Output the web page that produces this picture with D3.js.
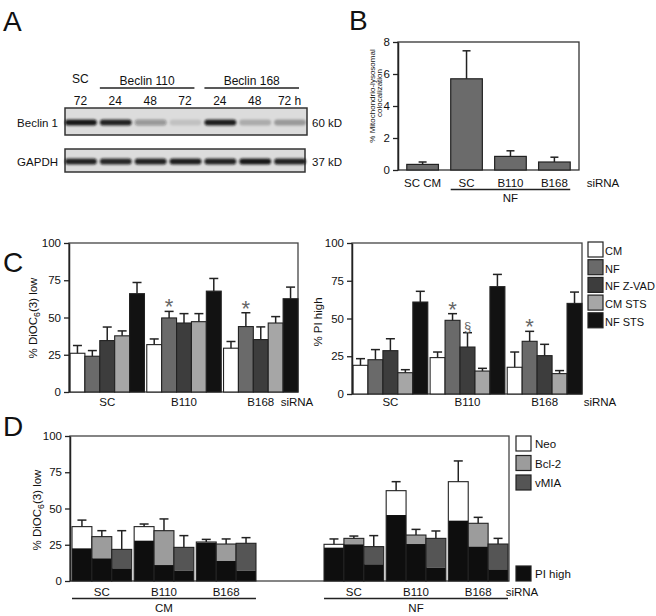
<!DOCTYPE html>
<html>
<head>
<meta charset="utf-8">
<script src="https://cdn.jsdelivr.net/npm/d3@7"></script>
<style>
  body { margin: 0; background: #fff; }
  text { font-family: "Liberation Sans", Arial, sans-serif; fill: #111; }
</style>
</head>
<body>
<div id="viz"></div>
<script>
// ---- data ----
// A: western blot lanes, band darkness 0..1
var lanes = ["SC 72", "B110 24", "B110 48", "B110 72", "B168 24", "B168 48", "B168 72"];
var laneLabels = ["72", "24", "48", "72", "24", "48", "72 h"];
var beclinBand = [0.95, 0.9, 0.35, 0.12, 0.92, 0.22, 0.3];
var gapdhBand = [0.9, 0.88, 0.9, 0.92, 0.9, 0.95, 0.9];

// B: mitochondrio-lysosomal colocalization
var bCats = ["SC CM", "SC", "B110", "B168"];
var bMean = [0.35, 5.7, 0.85, 0.5];
var bErr = [0.5, 7.45, 1.2, 0.8];
var bTicks = [0, 2, 4, 6, 8];

// C: [siRNA][treatment]
var siRNA = ["SC", "B110", "B168"];
var cTreat = ["CM", "NF", "NF Z-VAD", "CM STS", "NF STS"];
var dioc = [[26, 24, 34.5, 37.7, 66], [31.8, 49.7, 46.3, 47.2, 67.7], [29.4, 43.9, 35.2, 46.3, 62.6]];
var diocErr = [[31.2, 27.8, 43.6, 41, 73.5], [35.6, 54.1, 52.6, 52.6, 76.2], [33.9, 53.2, 43.7, 50.6, 70.4]];
var piHigh = [[19, 22.7, 28.7, 14.1, 60.9], [24.1, 48.8, 31.1, 15.2, 71.1], [17.7, 34.9, 25.4, 13.5, 60]];
var piErr = [[23.4, 29.4, 36.6, 16.1, 68], [27.8, 53.2, 40.6, 17, 79.2], [27.8, 41.5, 32.9, 15.5, 67.5]];
var diocMarks = [["B110", "NF", "*"], ["B168", "NF", "*"]];
var piMarks = [["B110", "NF", "*"], ["B110", "NF Z-VAD", "§"], ["B168", "NF", "*"]];
var cTicks = [0, 25, 50, 75, 100];

// D: [medium][siRNA][cell line]
var dMedium = ["CM", "NF"];
var dLines = ["Neo", "Bcl-2", "vMIA"];
var dTotal = [[[37.5, 30.6, 21.8], [37.5, 34.7, 23.2], [26.9, 25.5, 26]],
              [[25.3, 29.4, 23.7], [62.3, 31.7, 29.4], [68.5, 39.8, 25.5]]];
var dErr = [[[42, 34.7, 34.7], [39.3, 42.8, 31.3], [28.7, 29, 29.9]],
            [[29, 31, 31.3], [68.5, 35.6, 34.5], [82.8, 43.9, 29.4]]];
var dPI = [[[22.5, 15.6, 8.7], [27.8, 11, 7.1], [26.5, 13.8, 7.1]],
           [[23, 25.3, 11.5], [45.5, 25.5, 9.2], [41.6, 23.7, 8]]];

var cColor = d3.scaleOrdinal().domain(cTreat).range(["#ffffff", "#6a6a6a", "#3d3d3d", "#a6a6a6", "#121212"]);
var dColor = d3.scaleOrdinal().domain(dLines).range(["#ffffff", "#9c9c9c", "#555555"]);
var piColor = "#0e0e0e";
var ink = "#222";

var svg = d3.select("#viz").append("svg")
    .attr("width", 656)
    .attr("height", 616);

var defs = svg.append("defs");
defs.append("filter").attr("id", "blur")
    .attr("x", "-20%").attr("y", "-80%").attr("width", "140%").attr("height", "260%")
  .append("feGaussianBlur").attr("stdDeviation", 1.1);

function letter(t, x, y) {
  svg.append("text").attr("x", x).attr("y", y)
    .attr("font-size", 28).text(t);
}

function styleAxis(g, size) {
  g.select(".domain").attr("stroke", ink).attr("stroke-width", 1.5);
  g.selectAll(".tick line").attr("stroke", ink).attr("stroke-width", 1.3);
  g.selectAll(".tick text").attr("font-size", size).attr("fill", "#111")
    .attr("font-family", "Liberation Sans, Arial, sans-serif");
}

function errBar(g, cx, y0, y1, cap) {
  g.append("line").attr("x1", cx).attr("x2", cx).attr("y1", y0).attr("y2", y1)
    .attr("stroke", ink).attr("stroke-width", 1.5);
  g.append("line").attr("x1", cx - cap / 2).attr("x2", cx + cap / 2).attr("y1", y1).attr("y2", y1)
    .attr("stroke", ink).attr("stroke-width", 1.5);
}

function yLabel(x, y, size, parts) {
  var t = svg.append("text")
    .attr("transform", "translate(" + x + "," + y + ") rotate(-90)")
    .attr("text-anchor", "middle").attr("font-size", size);
  parts.forEach(function(p) {
    var s = t.append("tspan").text(p[0]);
    if (p[1]) s.attr("font-size", size * 0.75).attr("dy", 3);
    else if (p[2]) s.attr("dy", -3);
  });
}

// ---- A: western blot ----
letter("A", 3, 31);
var lx = d3.scaleBand().domain(lanes).range([63, 307]);
var gA = svg.append("g");

gA.append("text").attr("x", lx(lanes[0]) + lx.bandwidth() / 2).attr("y", 83)
  .attr("text-anchor", "middle").attr("font-size", 12).text("SC");
[["Beclin 110", lanes.slice(1, 4)], ["Beclin 168", lanes.slice(4, 7)]].forEach(function(grp) {
  var xa = lx(grp[1][0]) + 2, xb = lx(grp[1][2]) + lx.bandwidth() - 8;
  gA.append("line").attr("x1", xa).attr("x2", xb).attr("y1", 88).attr("y2", 88)
    .attr("stroke", ink).attr("stroke-width", 1.3);
  gA.append("text").attr("x", (xa + xb) / 2).attr("y", 85)
    .attr("text-anchor", "middle").attr("font-size", 12).text(grp[0]);
});
gA.selectAll(".lane").data(lanes).enter().append("text")
  .attr("x", function(d) { return lx(d) + lx.bandwidth() / 2; })
  .attr("y", 105).attr("text-anchor", "middle").attr("font-size", 12)
  .text(function(d, i) { return laneLabels[i]; });

[["Beclin 1", beclinBand, 108, 135, "60 kD", 307],
 ["GAPDH", gapdhBand, 149, 172, "37 kD", 305]].forEach(function(b) {
  var y0 = b[2], y1 = b[3], cy = (y0 + y1) / 2 + 1;
  gA.append("rect").attr("x", 65).attr("y", y0).attr("width", b[5] - 65).attr("height", y1 - y0)
    .attr("fill", "#dcdcdc").attr("stroke", "#333").attr("stroke-width", 1.5);
  gA.append("g").attr("filter", "url(#blur)").selectAll("rect").data(b[1]).enter().append("rect")
    .attr("x", function(d, i) { return lx(lanes[i]) + 2; })
    .attr("width", lx.bandwidth() - 3)
    .attr("y", cy - 3).attr("height", 6).attr("rx", 3)
    .attr("fill", "#111").attr("opacity", function(d) { return d; });
  gA.append("text").attr("x", 58).attr("y", cy + 4).attr("text-anchor", "end")
    .attr("font-size", 11.5).text(b[0]);
  gA.append("text").attr("x", 312).attr("y", cy + 4).attr("font-size", 11.5).text(b[4]);
});

// ---- B: colocalization ----
letter("B", 349, 30);
var by = d3.scaleLinear().domain([0, 8]).range([170, 42]);
var bx = d3.scaleBand().domain(bCats).range([398, 579]).paddingInner(0.28).paddingOuter(0.2);
var gB = svg.append("g");
gB.append("rect").attr("x", 398).attr("y", 42).attr("width", 181).attr("height", 128)
  .attr("fill", "none").attr("stroke", "#333").attr("stroke-width", 1.3);
bCats.forEach(function(c, i) {
  gB.append("rect").attr("x", bx(c)).attr("y", by(bMean[i]))
    .attr("width", bx.bandwidth()).attr("height", by(0) - by(bMean[i]))
    .attr("fill", "#6b6b6b").attr("stroke", ink).attr("stroke-width", 1.2);
  errBar(gB, bx(c) + bx.bandwidth() / 2, by(bMean[i]), by(bErr[i]), 8);
  gB.append("text").attr("x", bx(c) + bx.bandwidth() / 2).attr("y", 187)
    .attr("text-anchor", "middle").attr("font-size", 11.5).text(c);
});
var bAx = gB.append("g").attr("transform", "translate(398,0)")
  .call(d3.axisLeft(by).tickValues(bTicks).tickSize(5).tickSizeOuter(0));
styleAxis(bAx, 11.5);
gB.append("text").attr("x", 603).attr("y", 187).attr("text-anchor", "middle")
  .attr("font-size", 11.5).text("siRNA");
var nfA = bx("SC"), nfB = bx("B168") + bx.bandwidth();
gB.append("line").attr("x1", nfA).attr("x2", nfB).attr("y1", 189.5).attr("y2", 189.5)
  .attr("stroke", ink).attr("stroke-width", 1.3);
gB.append("text").attr("x", (nfA + nfB) / 2).attr("y", 202).attr("text-anchor", "middle")
  .attr("font-size", 11.5).text("NF");
[["% Mitochondrio-lysosomal", 375, 96], ["colocalization", 382, 93]].forEach(function(l) {
  gB.append("text").attr("transform", "translate(" + l[1] + "," + l[2] + ") rotate(-90)")
    .attr("text-anchor", "middle").attr("font-size", 8).text(l[0]);
});

// ---- C: two grouped bar charts ----
letter("C", 3, 272);

function drawC(x0, x1, yBot, vals, errs, marks, siX) {
  var y = d3.scaleLinear().domain([0, 100]).range([yBot, 243]);
  var gx = d3.scaleBand().domain(siRNA).range([x0 + 1, x1]).paddingInner(0.03);
  var tx = d3.scaleBand().domain(cTreat).range([0, gx.bandwidth()]);
  var g = svg.append("g");
  g.append("rect").attr("x", x0).attr("y", 243).attr("width", x1 - x0).attr("height", yBot - 243)
    .attr("fill", "none").attr("stroke", "#444").attr("stroke-width", 1.3);
  siRNA.forEach(function(s, si) {
    cTreat.forEach(function(t, ti) {
      var v = vals[si][ti], xb = gx(s) + tx(t);
      g.append("rect").attr("x", xb).attr("y", y(v))
        .attr("width", tx.bandwidth()).attr("height", yBot - y(v))
        .attr("fill", cColor(t)).attr("stroke", ink).attr("stroke-width", 1.1);
      errBar(g, xb + tx.bandwidth() / 2, y(v), y(errs[si][ti]), 9);
    });
    g.append("text").attr("x", gx(s) + gx.bandwidth() / 2).attr("y", 406)
      .attr("text-anchor", "middle").attr("font-size", 11.5).text(s);
  });
  marks.forEach(function(m) {
    var si = siRNA.indexOf(m[0]), ti = cTreat.indexOf(m[1]);
    var cx = gx(m[0]) + tx(m[1]) + tx.bandwidth() / 2;
    var star = m[2] === "*";
    g.append("text").attr("x", cx).attr("y", y(errs[si][ti]) + (star ? 3 : -2))
      .attr("text-anchor", "middle").attr("font-size", star ? 22 : 13)
      .style("fill", "#666").text(m[2]);
  });
  var ax = g.append("g").attr("transform", "translate(" + x0 + ",0)")
    .call(d3.axisLeft(y).tickValues(cTicks).tickSize(5).tickSizeOuter(0));
  styleAxis(ax, 11.5);
  g.append("text").attr("x", siX).attr("y", 406).attr("text-anchor", "middle")
    .attr("font-size", 11.5).text("siRNA");
}

drawC(69, 298, 392, dioc, diocErr, diocMarks, 297);
drawC(352, 582, 394, piHigh, piErr, piMarks, 600);
yLabel(37, 318, 11.5, [["% DiOC"], ["6", true], ["(3) low", false, true]]);
yLabel(322, 322, 11.5, [["% PI high"]]);

var legC = svg.append("g");
cTreat.forEach(function(t, i) {
  var yy = 242 + i * 17.7;
  legC.append("rect").attr("x", 588).attr("y", yy).attr("width", 15).attr("height", 15)
    .attr("fill", cColor(t)).attr("stroke", ink).attr("stroke-width", 1.2);
  legC.append("text").attr("x", 605).attr("y", yy + 13).attr("font-size", 11).text(t);
});

// ---- D: stacked bars ----
letter("D", 3, 436);
var dy = d3.scaleLinear().domain([0, 100]).range([581, 436]);
var mx = d3.scaleBand().domain(dMedium).range([72, 508]).paddingInner(0.27);
var sx = d3.scaleBand().domain(siRNA).range([0, mx.bandwidth()]).paddingInner(0.04);
var cx = d3.scaleBand().domain(dLines).range([0, sx.bandwidth()]);
var gD = svg.append("g");
gD.append("rect").attr("x", 70).attr("y", 436).attr("width", 439).attr("height", 145)
  .attr("fill", "none").attr("stroke", "#444").attr("stroke-width", 1.3);
dMedium.forEach(function(m, mi) {
  siRNA.forEach(function(s, si) {
    dLines.forEach(function(c, ci) {
      var xb = mx(m) + sx(s) + cx(c), w = cx.bandwidth();
      var tot = dTotal[mi][si][ci], pi = dPI[mi][si][ci];
      gD.append("rect").attr("x", xb).attr("y", dy(tot)).attr("width", w)
        .attr("height", dy(pi) - dy(tot)).attr("fill", dColor(c));
      gD.append("rect").attr("x", xb).attr("y", dy(pi)).attr("width", w)
        .attr("height", dy(0) - dy(pi)).attr("fill", piColor);
      gD.append("rect").attr("x", xb).attr("y", dy(tot)).attr("width", w)
        .attr("height", dy(0) - dy(tot)).attr("fill", "none")
        .attr("stroke", ink).attr("stroke-width", 1.1);
      errBar(gD, xb + w / 2, dy(tot), dy(dErr[mi][si][ci]), 9);
    });
    gD.append("text").attr("x", mx(m) + sx(s) + sx.bandwidth() / 2).attr("y", 596)
      .attr("text-anchor", "middle").attr("font-size", 11.5).text(s);
  });
  gD.append("line").attr("x1", mx(m)).attr("x2", mx(m) + mx.bandwidth())
    .attr("y1", 598.5).attr("y2", 598.5).attr("stroke", ink).attr("stroke-width", 1.3);
  gD.append("text").attr("x", mx(m) + mx.bandwidth() / 2).attr("y", 612)
    .attr("text-anchor", "middle").attr("font-size", 11.5).text(m);
});
var dAx = gD.append("g").attr("transform", "translate(70,0)")
  .call(d3.axisLeft(dy).tickValues(cTicks).tickSize(5).tickSizeOuter(0));
styleAxis(dAx, 11.5);
gD.append("text").attr("x", 522).attr("y", 596).attr("text-anchor", "middle")
  .attr("font-size", 11.5).text("siRNA");
yLabel(41, 510, 11.5, [["% DiOC"], ["6", true], ["(3) low", false, true]]);

var legD = svg.append("g");
var legDItems = dLines.map(function(c) { return [c, dColor(c)]; }).concat([["PI high", piColor]]);
var legDY = [436, 455.5, 475, 566];
legDItems.forEach(function(it, i) {
  legD.append("rect").attr("x", 516).attr("y", legDY[i]).attr("width", 15).attr("height", 15)
    .attr("fill", it[1]).attr("stroke", ink).attr("stroke-width", 1.2);
  legD.append("text").attr("x", 535).attr("y", legDY[i] + 12).attr("font-size", 11.5).text(it[0]);
});
</script>
</body>
</html>
